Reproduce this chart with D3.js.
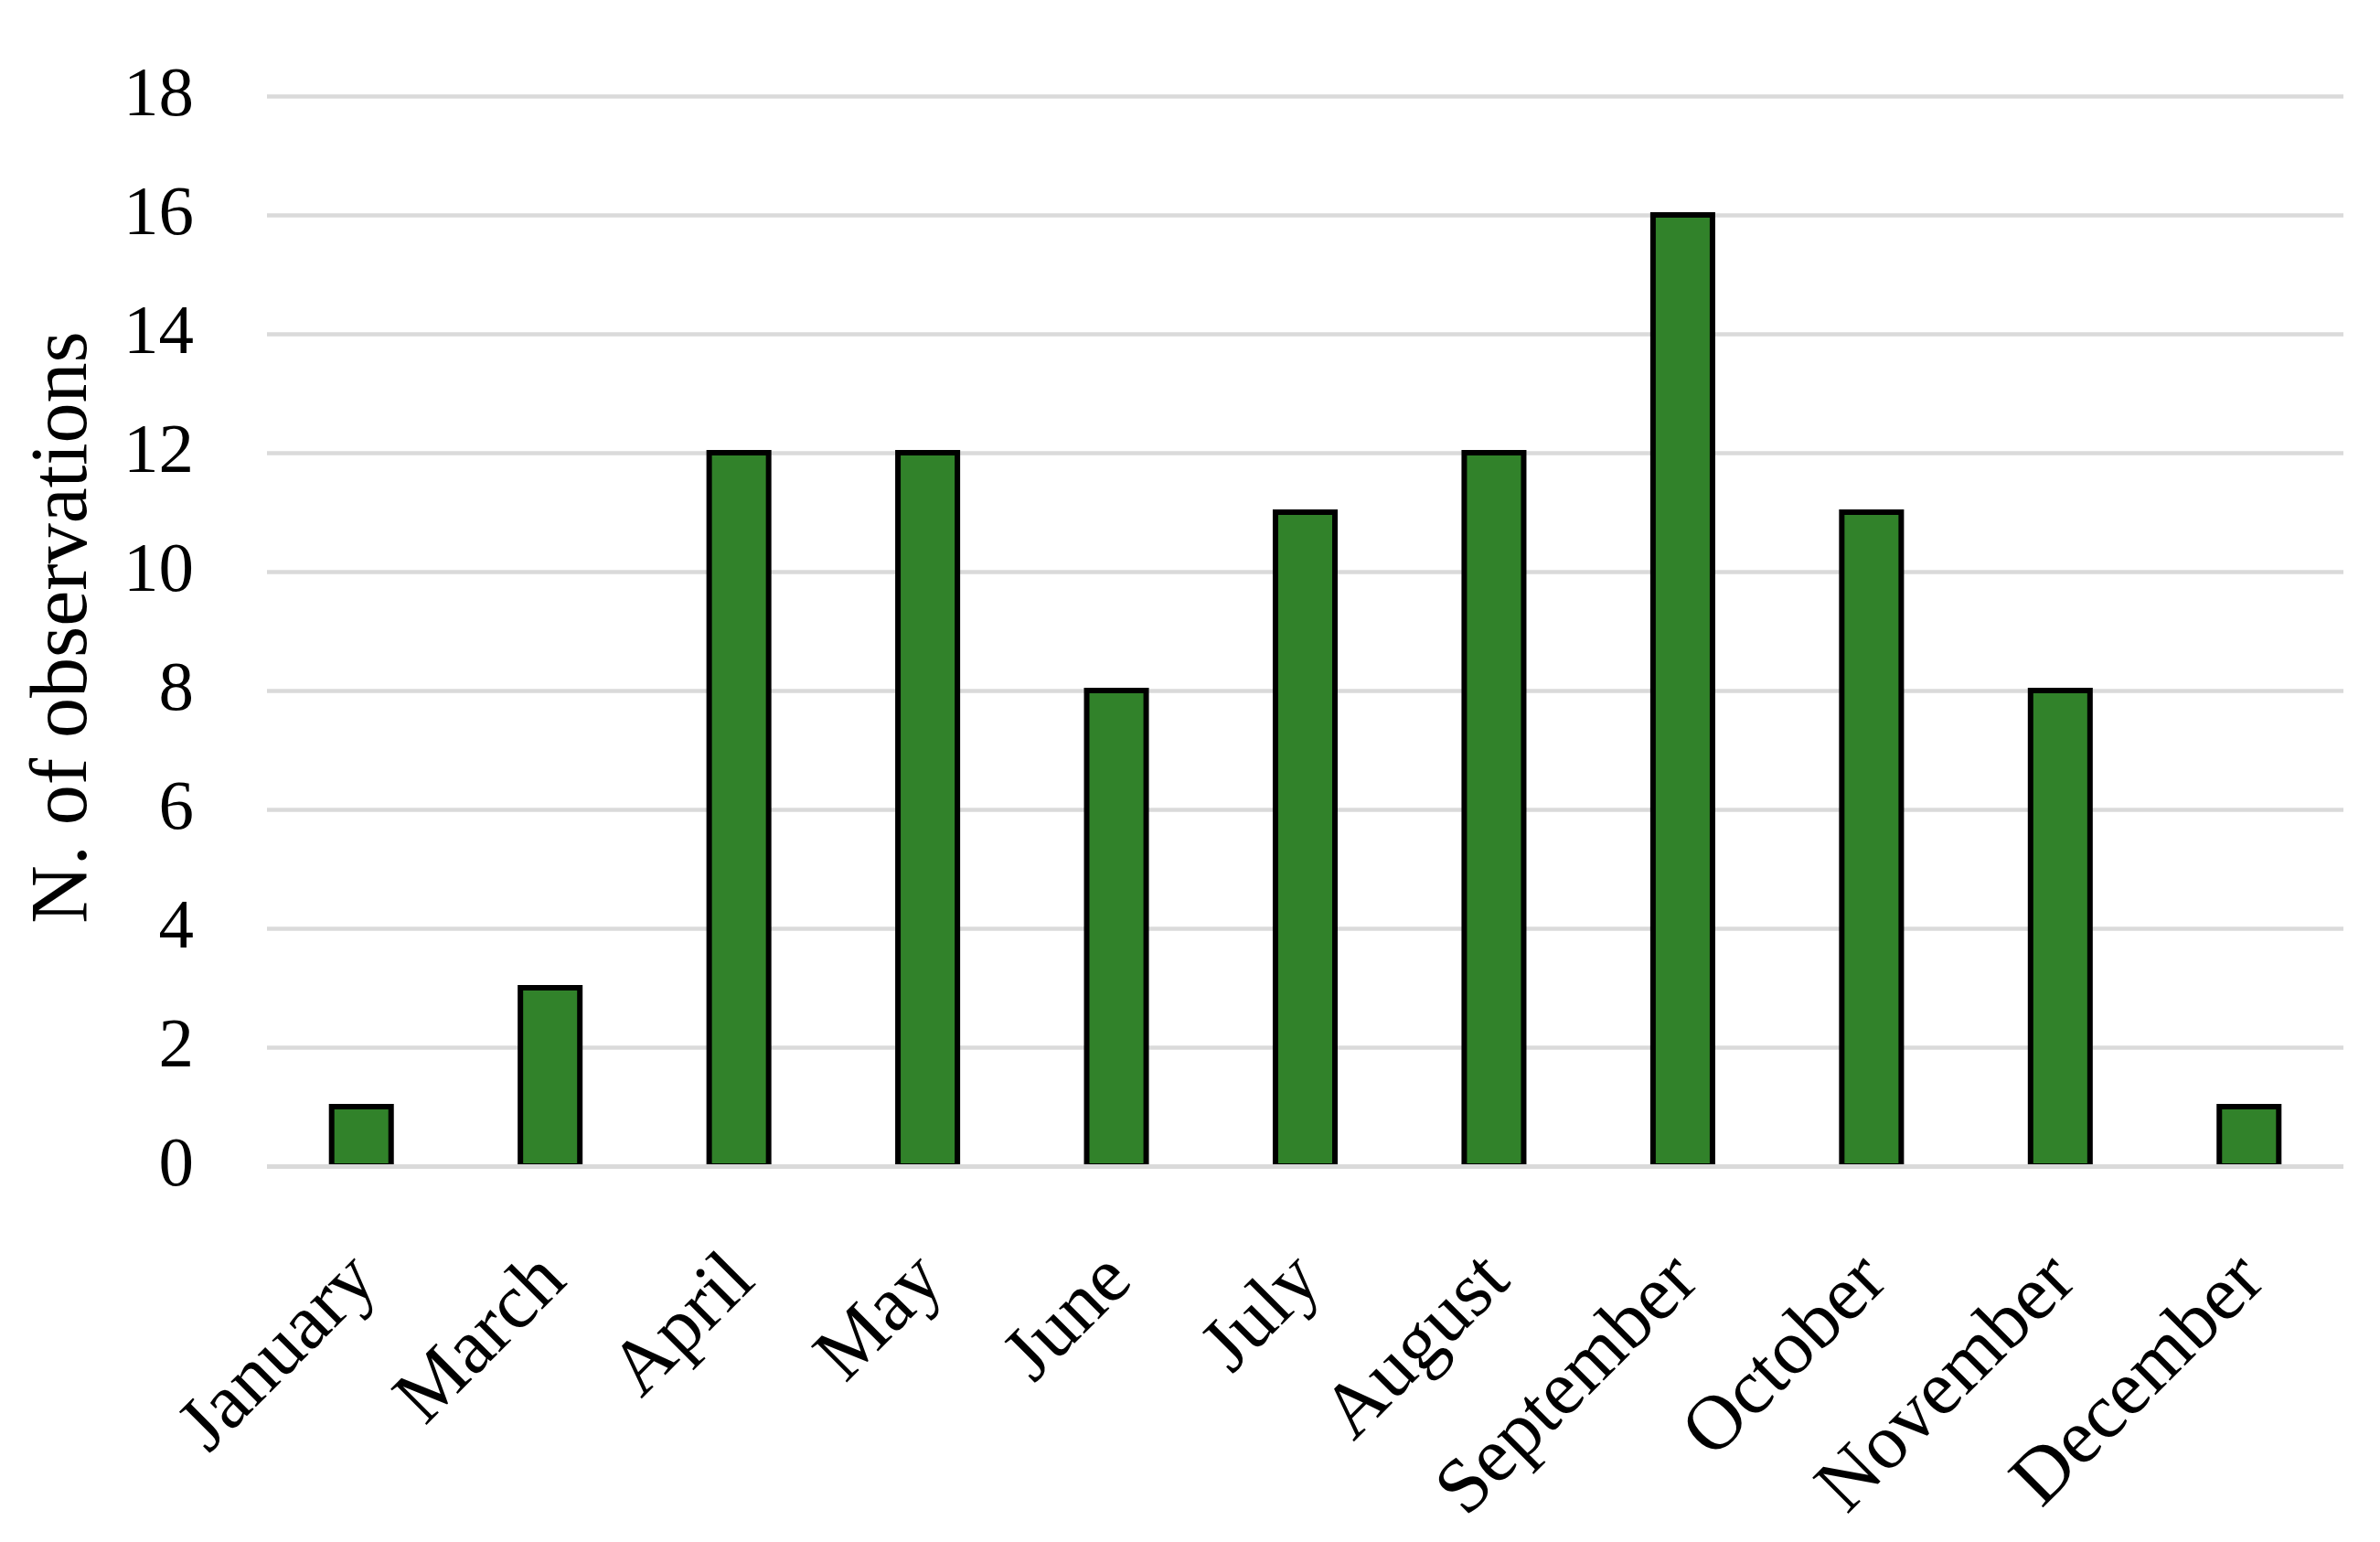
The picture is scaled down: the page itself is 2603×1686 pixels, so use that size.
<!DOCTYPE html>
<html>
<head>
<meta charset="utf-8">
<script src="https://cdn.jsdelivr.net/npm/d3@7"></script>
<style>
  html, body { margin: 0; padding: 0; background: #ffffff; }
  svg { display: block; }
</style>
</head>
<body>
<script>
const months = ["January", "March", "April", "May", "June", "July", "August", "September", "October", "November", "December"];
const observations = [1, 3, 12, 12, 8, 11, 12, 16, 11, 8, 1];
const yTicks = [0, 2, 4, 6, 8, 10, 12, 14, 16, 18];
const yTitle = "N. of observations";

(function () {
const W = 2603, H = 1686;
const pLeft = 292, pRight = 2563, pTop = 105, pBottom = 1275;

const svg = d3.select("body").append("svg").attr("width", W).attr("height", H);

const x = d3.scaleBand().domain(months).range([pLeft, pRight]).paddingInner(0.685).paddingOuter(0.3425);
const y = d3.scaleLinear().domain([0, 18]).range([pBottom, pTop]);

// gridlines
const grid = svg.append("g").attr("transform", `translate(${pLeft},0)`)
  .call(d3.axisLeft(y).tickValues(yTicks.filter(d => d !== 0)).tickSize(-(pRight - pLeft)).tickFormat(""));
grid.select(".domain").remove();
grid.selectAll("line").attr("stroke", "#dadada").attr("stroke-width", 4.5);

// bars
svg.append("g").selectAll("rect").data(observations).join("rect")
  .attr("x", (d, i) => x(months[i]))
  .attr("y", d => y(d))
  .attr("width", x.bandwidth())
  .attr("height", d => y(0) - y(d))
  .attr("fill", "#31822a")
  .attr("stroke", "#000")
  .attr("stroke-width", 6);

// zero line on top
const zero = svg.append("g").attr("transform", `translate(${pLeft},0)`)
  .call(d3.axisLeft(y).tickValues([0]).tickSize(-(pRight - pLeft)).tickFormat(""));
zero.select(".domain").remove();
zero.selectAll("line").attr("stroke", "#dadada").attr("stroke-width", 5);

// y tick labels
const yAxis = svg.append("g").attr("transform", `translate(212,0)`)
  .call(d3.axisLeft(y).tickValues(yTicks).tickSize(0).tickPadding(0));
yAxis.select(".domain").remove();
yAxis.selectAll("text")
  .attr("font-family", "'Liberation Serif', serif")
  .attr("font-size", 77)
  .attr("fill", "#000")
  .attr("dy", "0.27em");

// x labels
const xAxis = svg.append("g").attr("transform", `translate(0,${pBottom})`)
  .call(d3.axisBottom(x).tickSize(0).tickPadding(0));
xAxis.select(".domain").remove();
xAxis.selectAll(".tick text")
  .attr("font-family", "'Liberation Serif', serif")
  .attr("font-size", 85)
  .attr("fill", "#000")
  .attr("text-anchor", "end")
  .attr("dy", 0)
  .attr("y", 0)
  .attr("transform", "translate(20,128) rotate(-45)");

// y title
svg.append("text")
  .attr("transform", `translate(94,${(pTop + pBottom) / 2 - 4}) rotate(-90)`)
  .attr("text-anchor", "middle")
  .attr("font-family", "'Liberation Serif', serif")
  .attr("font-size", 88)
  .attr("fill", "#000")
  .text(yTitle);
})();
</script>
</body>
</html>
